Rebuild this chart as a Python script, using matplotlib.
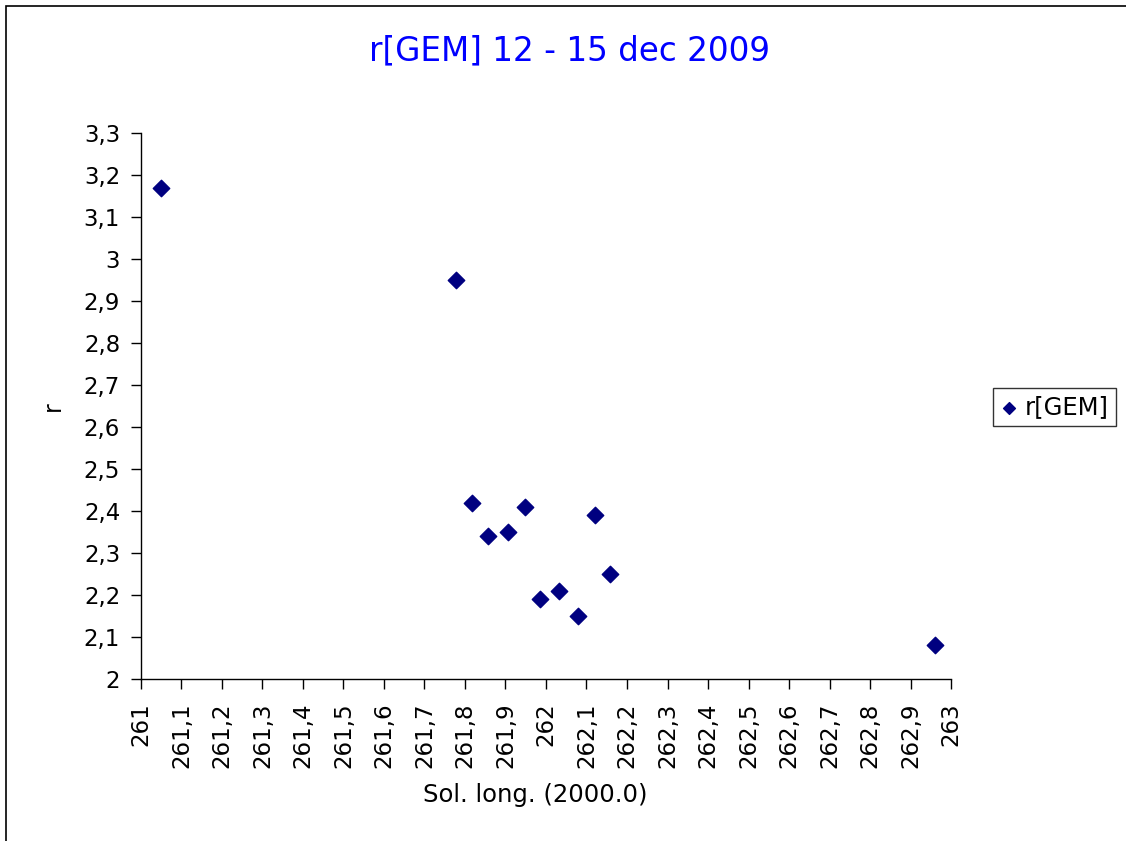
import matplotlib
matplotlib.use("Agg")
import matplotlib.pyplot as plt
from matplotlib.ticker import FuncFormatter, MultipleLocator
from matplotlib.patches import Rectangle

plt.rcParams['font.family'] = ['DejaVu Sans']

sol_long = [261.049, 261.779, 261.818, 261.858, 261.907, 261.947,
            261.986, 262.031, 262.080, 262.120, 262.159, 262.960]
r_values = [3.17, 2.95, 2.42, 2.34, 2.35, 2.41,
            2.19, 2.21, 2.15, 2.39, 2.25, 2.08]

title = "r[GEM] 12 - 15 dec 2009"
series_name = "r[GEM]"
xlabel = "Sol. long. (2000.0)"
ylabel = "r"

fig = plt.figure(figsize=(11.26, 8.41), dpi=100)
fig.patches.append(Rectangle((0.005, -0.01), 1.2, 1.003, transform=fig.transFigure,
                             fill=False, edgecolor='black', linewidth=1.2))
ax = fig.add_axes([0.1252, 0.1926, 0.8446 - 0.1252, 0.8419 - 0.1926])

ax.scatter(sol_long, r_values, marker='D', s=70, color='#000080', label=series_name,
           zorder=3, clip_on=False)

ax.set_xlim(261, 263)
ax.set_ylim(2, 3.3)
ax.xaxis.set_major_locator(MultipleLocator(0.1))
ax.yaxis.set_major_locator(MultipleLocator(0.1))

def fmt(v, pos):
    s = ("%.1f" % v)
    if s.endswith(".0"):
        s = s[:-2]
    return s.replace(".", ",")

ax.xaxis.set_major_formatter(FuncFormatter(fmt))
ax.yaxis.set_major_formatter(FuncFormatter(fmt))

for s in ['top', 'right']:
    ax.spines[s].set_visible(False)
for s in ['left', 'bottom']:
    ax.spines[s].set_color('black')
    ax.spines[s].set_linewidth(1.0)

ax.tick_params(axis='both', direction='out', length=7, width=1, colors='black', labelsize=16.5)
ax.tick_params(axis='y', pad=8)
ax.tick_params(axis='x', pad=10)
for lbl in ax.get_xticklabels():
    lbl.set_rotation(90)
    lbl.set_va('top')
    lbl.set_ha('center')

ax.set_xlabel(xlabel, fontsize=17.5)
ax.xaxis.set_label_coords(0.487, -0.19)
ax.set_ylabel(ylabel, fontsize=17)
ax.yaxis.set_label_coords(-0.094, 0.5)

fig.text(0.506, 0.94, title, ha='center', va='center', fontsize=23.5, color='#0000ff')

leg = ax.legend(loc='center left', bbox_to_anchor=(1.052, 0.498), frameon=True,
                fancybox=False, fontsize=17.5, handlelength=0.7, handletextpad=0.3,
                borderpad=0.3, borderaxespad=0, markerscale=0.72)
leg.get_frame().set_edgecolor('black')
leg.get_frame().set_linewidth(1.0)

fig.savefig("out.png", dpi=100)
